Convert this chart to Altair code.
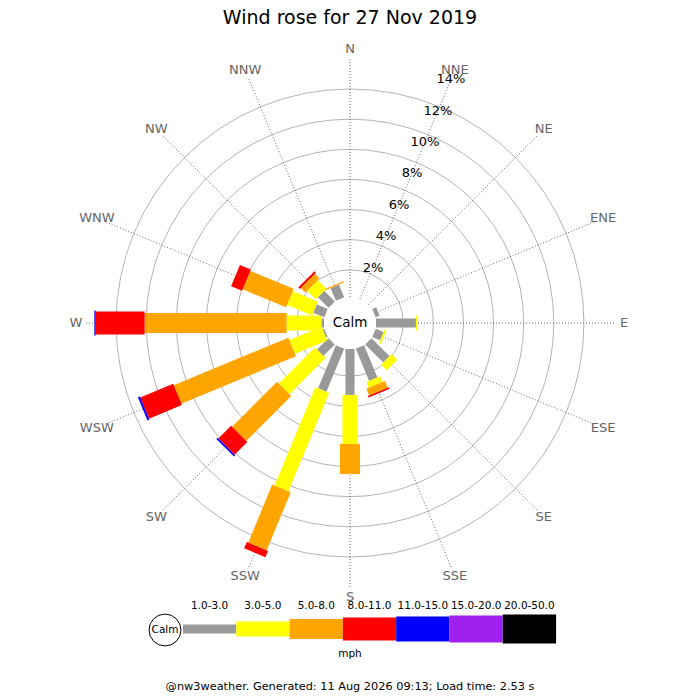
import math
import altair as alt
import pandas as pd

# ---------------- data ----------------
directions = ["N", "NNE", "NE", "ENE", "E", "ESE", "SE", "SSE",
              "S", "SSW", "SW", "WSW", "W", "WNW", "NW", "NNW"]
bands = ["1.0-3.0", "3.0-5.0", "5.0-8.0", "8.0-11.0",
         "11.0-15.0", "15.0-20.0", "20.0-50.0"]
band_colors = ["#999999", "#ffff00", "#ffa500", "#ff0000",
               "#0000ff", "#a020f0", "#000000"]
band_widths = [9, 15, 20, 23, 25, 27, 29]

# percentage of time per direction for each speed band (mph)
pct_1_3 = [0, 0, 0, 0.25, 2.35, 0.5, 1.5, 2.05, 2.7, 2.74, 0.95, 0.1, 0.15, 0.7, 0.88, 0.8]
pct_3_5 = [0, 0, 0, 0, 0.08, 0.12, 0.47, 0.36, 2.88, 6.26, 3.0, 2.05, 2.05, 1.6, 0.72, 0]
pct_5_8 = [0, 0, 0, 0, 0, 0, 0, 0.43, 1.78, 3.7, 3.74, 7.3, 8.35, 2.76, 0.38, 0.08]
pct_8_11 = [0, 0, 0, 0, 0, 0, 0, 0.1, 0, 0.4, 1.06, 2.1, 2.88, 0.7, 0.12, 0]
pct_11_15 = [0, 0, 0, 0, 0, 0, 0, 0, 0, 0, 0.1, 0.12, 0.08, 0, 0, 0]
pct_15_20 = [0] * 16
pct_20_50 = [0] * 16
series = [pct_1_3, pct_3_5, pct_5_8, pct_8_11, pct_11_15, pct_15_20, pct_20_50]

ring_pcts = [2, 4, 6, 8, 10, 12, 14]

title_text = "Wind rose for 27 Nov 2019"
footer_text = "@nw3weather. Generated: 11 Aug 2026 09:13; Load time: 2.53 s"
unit_text = "mph"
calm_text = "Calm"

# ---------------- layout ----------------
FONT = "DejaVu Sans"
PX = 17.0            # pixels per percent
CALM_PX = 26.0       # calm circle radius in px
CALM = CALM_PX / PX
W = H = 684
CX, CY = 342, 315    # rose centre in plot px


def ux(page_x):
    return (page_x - 8 - CX) / PX


def uy(page_y):
    return (CY - (page_y - 8)) / PX


xs = alt.Scale(domain=[-CX / PX, (W - CX) / PX], nice=False, zero=False)
ys = alt.Scale(domain=[-(H - CY) / PX, CY / PX], nice=False, zero=False)


def X(f):
    return alt.X(f, type="quantitative", scale=xs, axis=None)


def Y(f):
    return alt.Y(f, type="quantitative", scale=ys, axis=None)


# rose segments
rows = []
for d_i, d in enumerate(directions):
    a = math.radians(22.5 * d_i)
    s, c = math.sin(a), math.cos(a)
    r = CALM
    for b_i, b in enumerate(bands):
        v = series[b_i][d_i]
        if v > 0:
            rows.append(dict(direction=d, band=b, value=v,
                             x0=r * s, y0=r * c, x1=(r + v) * s, y1=(r + v) * c))
        r += v
rose = pd.DataFrame(rows)

# spokes & direction labels
spk = []
for d_i, d in enumerate(directions):
    a = math.radians(22.5 * d_i)
    s, c = math.sin(a), math.cos(a)
    r_out = CALM + ring_pcts[-1]
    r_lab = 274 / PX
    spk.append(dict(direction=d, x0=CALM * s, y0=CALM * c, x1=r_out * s, y1=r_out * c,
                    lx=r_lab * s, ly=r_lab * c))
spokes = pd.DataFrame(spk)

# rings & percent labels (placed on NNE spoke)
a_lab = math.radians(22.5)
rings = pd.DataFrame([dict(pct=p, label=f"{p}%", x=0.0, y=0.0,
                           size=math.pi * ((CALM + p) * PX) ** 2,
                           lx=(CALM + p) * math.sin(a_lab), ly=(CALM + p) * math.cos(a_lab))
                      for p in ring_pcts])

centre = pd.DataFrame([dict(x=0.0, y=0.0, size=math.pi * CALM_PX ** 2, label=calm_text)])

# legend
step = 53.3 / PX
leg = pd.DataFrame([dict(band=b, x0=ux(183) + i * step, x1=ux(183) + (i + 1) * step,
                         xm=ux(183) + (i + 0.5) * step, y=uy(629), ly=uy(606))
                    for i, b in enumerate(bands)])
leg_calm = pd.DataFrame([dict(x=ux(165), y=uy(630), size=math.pi * 18 ** 2, label=calm_text)])
texts = pd.DataFrame([
    dict(x=ux(350), y=uy(18), label=title_text, kind="title"),
    dict(x=ux(350), y=uy(654), label=unit_text, kind="unit"),
    dict(x=ux(350), y=uy(687), label=footer_text, kind="footer"),
])

color_scale = alt.Scale(domain=bands, range=band_colors)
width_scale = alt.Scale(type="ordinal", domain=bands, range=band_widths)

# ---------------- layers ----------------
ring_layer = alt.Chart(rings).mark_point(shape="circle", filled=False, stroke="#b4b4b4",
                                         strokeWidth=1, opacity=1).encode(
    x=X("x"), y=Y("y"), size=alt.Size("size:Q", scale=None))

spoke_layer = alt.Chart(spokes).mark_rule(color="#444444", strokeWidth=0.8,
                                          strokeDash=[1, 2]).encode(
    x=X("x0"), y=Y("y0"), x2="x1:Q", y2="y1:Q")

calm_layer = alt.Chart(centre).mark_point(shape="circle", filled=True, fill="white",
                                          strokeWidth=0, opacity=1).encode(
    x=X("x"), y=Y("y"), size=alt.Size("size:Q", scale=None))

bar_layer = alt.Chart(rose).mark_rule(strokeCap="butt").encode(
    x=X("x0"), y=Y("y0"), x2="x1:Q", y2="y1:Q",
    color=alt.Color("band:N", scale=color_scale, legend=None),
    strokeWidth=alt.StrokeWidth("band:O", scale=width_scale, legend=None))

calm_text_layer = alt.Chart(centre).mark_text(font=FONT, fontSize=13.5, color="black",
                                              baseline="middle").encode(
    x=X("x"), y=Y("y"), text="label:N")

dir_label_layer = alt.Chart(spokes).mark_text(font=FONT, fontSize=13, color="#666666",
                                              baseline="middle").encode(
    x=X("lx"), y=Y("ly"), text="direction:N")

pct_label_layer = alt.Chart(rings).mark_text(font=FONT, fontSize=13, color="black",
                                             baseline="middle").encode(
    x=X("lx"), y=Y("ly"), text="label:N")

leg_bar_layer = alt.Chart(leg).mark_rule(strokeCap="butt").encode(
    x=X("x0"), y=Y("y"), x2="x1:Q",
    color=alt.Color("band:N", scale=color_scale, legend=None),
    strokeWidth=alt.StrokeWidth("band:O", scale=width_scale, legend=None))

leg_label_layer = alt.Chart(leg).mark_text(font=FONT, fontSize=10.5, color="black",
                                           baseline="middle").encode(
    x=X("xm"), y=Y("ly"), text="band:N")

leg_calm_layer = alt.Chart(leg_calm).mark_point(shape="circle", filled=True, fill="white",
                                                stroke="black", strokeWidth=1, opacity=1).encode(
    x=X("x"), y=Y("y"), size=alt.Size("size:Q", scale=None))

leg_calm_text = alt.Chart(leg_calm).mark_text(font=FONT, fontSize=10.5, color="black",
                                              baseline="middle").encode(
    x=X("x"), y=Y("y"), text="label:N")

title_layer = alt.Chart(texts).transform_filter("datum.kind == 'title'").mark_text(
    font=FONT, fontSize=19, color="black", baseline="middle").encode(
    x=X("x"), y=Y("y"), text="label:N")

unit_layer = alt.Chart(texts).transform_filter("datum.kind == 'unit'").mark_text(
    font=FONT, fontSize=10.5, color="black", baseline="middle").encode(
    x=X("x"), y=Y("y"), text="label:N")

footer_layer = alt.Chart(texts).transform_filter("datum.kind == 'footer'").mark_text(
    font=FONT, fontSize=11.3, color="black", baseline="middle").encode(
    x=X("x"), y=Y("y"), text="label:N")

chart = alt.layer(
    ring_layer, spoke_layer, calm_layer, bar_layer, calm_text_layer,
    dir_label_layer, pct_label_layer,
    leg_bar_layer, leg_calm_layer, leg_calm_text, leg_label_layer,
    title_layer, unit_layer, footer_layer,
).properties(
    width=W, height=H, padding=0,
    autosize=alt.AutoSizeParams(type="none"),
    background="white",
).configure_view(strokeWidth=0)

chart.save("out.html", embed_options={"renderer": "svg", "actions": False})
